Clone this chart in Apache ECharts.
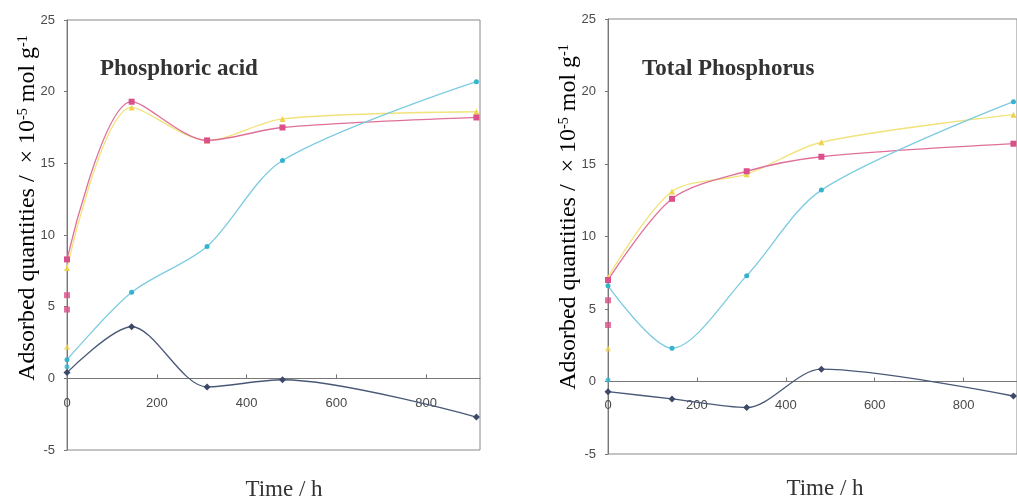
<!DOCTYPE html>
<html>
<head>
<meta charset="utf-8">
<script src="https://cdn.jsdelivr.net/npm/echarts@6/dist/echarts.min.js"></script>
<style>
  html, body { margin: 0; padding: 0; background: #fff; }
  #chart { width: 1017px; height: 503px; }
</style>
</head>
<body>
<div id="chart"></div>
<script>
// Sampling times (h)
const hours = [0, 144, 312, 480, 912];
const xTicks = [0, 200, 400, 600, 800];
const yTicks = [-5, 0, 5, 10, 15, 20, 25];

// Phosphoric acid, adsorbed quantities (x10^-5 mol g^-1)
const paPink   = [8.3, 19.3, 16.6, 17.5, 18.2];
const paYellow = [7.7, 18.9, 16.6, 18.1, 18.6];
const paCyan   = [1.3, 6.0, 9.2, 15.2, 20.7];
const paDark   = [0.4, 3.6, -0.6, -0.1, -2.7];
// extra readings at t = 0
const paPink0   = [5.8, 4.8];
const paYellow0 = [2.2];
const paCyan0   = [0.8];

// Total phosphorus, adsorbed quantities (x10^-5 mol g^-1)
const tpPink   = [7.0, 12.6, 14.5, 15.5, 16.4];
const tpYellow = [7.2, 13.1, 14.3, 16.5, 18.4];
const tpCyan   = [6.6, 2.3, 7.3, 13.2, 19.3];
const tpDark   = [-0.7, -1.2, -1.8, 0.85, -1.0];
const tpPink0   = [5.6, 3.9];
const tpYellow0 = [2.3];
const tpCyan0   = [0.1];

const COLORS = {
  pink:   { line: '#e0709a', mark: '#d9508a', symbol: 'rect', size: 6 },
  yellow: { line: '#f2e27a', mark: '#f0d24a', symbol: 'triangle', size: 6 },
  cyan:   { line: '#7ccbe0', mark: '#34b4cc', symbol: 'circle', size: 5 },
  dark:   { line: '#4a5878', mark: '#3c4a68', symbol: 'diamond', size: 7 }
};

const pair = (xs, ys) => ys.map((v, i) => [xs[i], v]);
const atZero = ys => ys.map(v => [0, v]);

function lineSeries(idx, key, ys) {
  const c = COLORS[key];
  return {
    type: 'line', xAxisIndex: idx, yAxisIndex: idx,
    data: pair(hours, ys), smooth: 0.3,
    symbol: c.symbol, symbolSize: c.size,
    lineStyle: { color: c.line, width: 1.3 },
    itemStyle: { color: c.mark },
    z: key === 'dark' ? 5 : 3
  };
}
function zeroSeries(idx, key, ys) {
  const c = COLORS[key];
  return {
    type: 'scatter', xAxisIndex: idx, yAxisIndex: idx,
    data: atZero(ys), symbol: c.symbol, symbolSize: c.size,
    itemStyle: { color: c.mark }, z: 4
  };
}

const labelFont = { fontFamily: 'Liberation Sans', fontSize: 13, color: '#4a4a4a' };

// x tick labels sit just under the zero line, so pull them up from the grid bottom
function xAxis(idx, labelMargin) {
  return {
    type: 'value', gridIndex: idx, min: 0, max: 920, interval: 200,
    axisLine: { onZero: true, lineStyle: { color: '#777', width: 1 } },
    axisTick: { inside: true, length: 4, lineStyle: { color: '#777' } },
    axisLabel: Object.assign({ margin: labelMargin, showMaxLabel: false,
      formatter: v => (xTicks.indexOf(v) >= 0 ? String(v) : '') }, labelFont),
    splitLine: { show: false }
  };
}
function yAxis(idx) {
  return {
    type: 'value', gridIndex: idx, min: yTicks[0], max: yTicks[yTicks.length - 1], interval: 5,
    axisLine: { onZero: false, lineStyle: { color: '#777', width: 1 } },
    axisTick: { inside: false, length: 3, lineStyle: { color: '#777' } },
    axisLabel: Object.assign({ margin: 12 }, labelFont),
    splitLine: { show: false }
  };
}

const yTitleRich = {
  n: { fontFamily: 'Liberation Serif', fontSize: 24, color: '#333' },
  s: { fontFamily: 'Liberation Serif', fontSize: 14, color: '#333', verticalAlign: 'top' }
};
const yTitleText = '{n|Adsorbed quantities /  × 10}{s|-5}{n| mol g}{s|-1}';

const chart = echarts.init(document.getElementById('chart'), null, { renderer: 'canvas' });
chart.setOption({
  backgroundColor: '#ffffff',
  animation: false,
  grid: [
    { left: 67, top: 20, width: 413, height: 430, show: true, borderColor: '#888', borderWidth: 1 },
    { left: 608, top: 19, width: 423, height: 435, show: true, borderColor: '#888', borderWidth: 1 }
  ],
  xAxis: [xAxis(0, -53), xAxis(1, -55)],
  yAxis: [yAxis(0), yAxis(1)],
  series: [
    lineSeries(0, 'yellow', paYellow),
    lineSeries(0, 'pink', paPink),
    lineSeries(0, 'cyan', paCyan),
    lineSeries(0, 'dark', paDark),
    zeroSeries(0, 'pink', paPink0),
    zeroSeries(0, 'yellow', paYellow0),
    zeroSeries(0, 'cyan', paCyan0),
    lineSeries(1, 'yellow', tpYellow),
    lineSeries(1, 'pink', tpPink),
    lineSeries(1, 'cyan', tpCyan),
    lineSeries(1, 'dark', tpDark),
    zeroSeries(1, 'pink', tpPink0),
    zeroSeries(1, 'yellow', tpYellow0),
    zeroSeries(1, 'cyan', tpCyan0)
  ],
  graphic: [
    { type: 'text', x: 100, y: 58, style: { text: 'Phosphoric acid',
      font: 'bold 23px "Liberation Serif"', fill: '#333' } },
    { type: 'text', x: 642, y: 58, style: { text: 'Total Phosphorus',
      font: 'bold 23px "Liberation Serif"', fill: '#333' } },
    { type: 'text', x: 28, y: 208, rotation: Math.PI / 2,
      style: { text: yTitleText, rich: yTitleRich, align: 'center', verticalAlign: 'middle' } },
    { type: 'text', x: 569, y: 217, rotation: Math.PI / 2,
      style: { text: yTitleText, rich: yTitleRich, align: 'center', verticalAlign: 'middle' } },
    { type: 'text', x: 284, y: 490, style: { text: 'Time / h', font: '23px "Liberation Serif"',
      fill: '#333', align: 'center', verticalAlign: 'middle' } },
    { type: 'text', x: 825, y: 489, style: { text: 'Time / h', font: '23px "Liberation Serif"',
      fill: '#333', align: 'center', verticalAlign: 'middle' } }
  ]
});
</script>
</body>
</html>
